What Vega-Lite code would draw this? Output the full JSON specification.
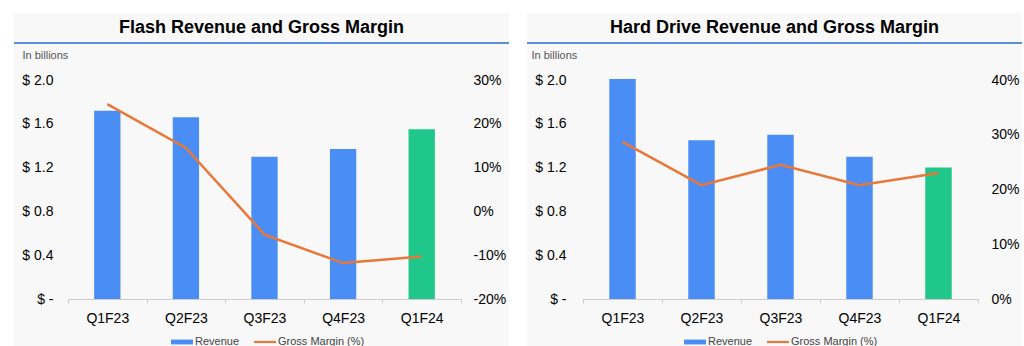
{
  "$schema": "https://vega.github.io/schema/vega-lite/v6.json",
  "background": "#ffffff",
  "padding": {"left": 13, "top": 13, "right": 0, "bottom": 0},
  "autosize": {"type": "pad"},
  "config": {
    "font": "Liberation Sans",
    "concat": {"spacing": 16},
    "view": {"fill": "#f8f8f8", "stroke": null},
    "title": {"font": "Liberation Sans", "fontSize": 18, "fontWeight": "bold", "color": "#000000", "anchor": "middle", "frame": "group", "baseline": "alphabetic", "offset": -24},
    "axis": {"labelFont": "Liberation Sans", "labelFontSize": 14, "labelColor": "#111111", "grid": false}
  },
  "datasets": {
    "fin": [
      {"segment": "Flash", "quarter": "Q1F23", "revenue": 1.72, "gm": 24.5, "group": "Revenue"},
      {"segment": "Flash", "quarter": "Q2F23", "revenue": 1.66, "gm": 14.5, "group": "Revenue"},
      {"segment": "Flash", "quarter": "Q3F23", "revenue": 1.30, "gm": -5.3, "group": "Revenue"},
      {"segment": "Flash", "quarter": "Q4F23", "revenue": 1.37, "gm": -11.8, "group": "Revenue"},
      {"segment": "Flash", "quarter": "Q1F24", "revenue": 1.55, "gm": -10.3, "group": "Latest"},
      {"segment": "HDD", "quarter": "Q1F23", "revenue": 2.01, "gm": 28.7, "group": "Revenue"},
      {"segment": "HDD", "quarter": "Q2F23", "revenue": 1.45, "gm": 20.8, "group": "Revenue"},
      {"segment": "HDD", "quarter": "Q3F23", "revenue": 1.50, "gm": 24.5, "group": "Revenue"},
      {"segment": "HDD", "quarter": "Q4F23", "revenue": 1.30, "gm": 20.8, "group": "Revenue"},
      {"segment": "HDD", "quarter": "Q1F24", "revenue": 1.20, "gm": 23.0, "group": "Latest"}
    ]
  },
  "hconcat": [
    {
      "width": 495,
      "height": 333,
      "title": "Flash Revenue and Gross Margin",
      "data": {"name": "fin"},
      "transform": [{"filter": "datum.segment === 'Flash'"}],
      "layer": [
        {
          "layer": [
            {
              "mark": {"type": "bar", "width": {"band": 0.335}},
              "encoding": {
                "x": {
                  "field": "quarter", "type": "nominal", "sort": null,
                  "scale": {"range": [54, 447], "paddingInner": 0, "paddingOuter": 0},
                  "axis": {"title": null, "labelAngle": 0, "offset": -47, "domainColor": "#cccccc", "tickColor": "#cccccc", "tickSize": 4, "tickBand": "extent", "labelPadding": 8, "labelColor": "#000000"}
                },
                "y": {
                  "field": "revenue", "type": "quantitative",
                  "scale": {"domain": [0, 2], "range": [286, 67], "nice": false, "zero": true},
                  "axis": {"orient": "left", "values": [0, 0.4, 0.8, 1.2, 1.6, 2.0], "labelExpr": "datum.value == 0 ? '$ -' : '$ ' + format(datum.value, '.1f')", "domain": false, "ticks": false, "offset": -39, "labelPadding": 0, "labelColor": "#000000",
                    "title": "In billions", "titleAngle": 0, "titleAlign": "left", "titleBaseline": "alphabetic", "titleX": -31, "titleY": 45, "titleFont": "Liberation Sans", "titleFontSize": 11, "titleFontWeight": "normal", "titleColor": "#555555"}
                },
                "color": {
                  "field": "group", "type": "nominal",
                  "scale": {"domain": ["Revenue", "Gross Margin (%)", "Latest"], "range": ["#4a8ef5", "#e8773a", "#1fc78b"]},
                  "legend": {
                    "title": null, "orient": "none", "direction": "horizontal", "legendX": 157, "legendY": 318,
                    "values": ["Revenue", "Gross Margin (%)"],
                    "labelFont": "Liberation Sans", "labelFontSize": 11, "labelColor": "#444444", "labelOffset": 2, "columnPadding": 14,
                    "symbolSize": 484, "symbolStrokeWidth": 0,
                    "encode": {"symbols": {"update": {"shape": {"signal": "datum.value === 'Revenue' ? 'M-1,-0.22H1V0.22H-1Z' : 'M-1,-0.1H1V0.1H-1Z'"}}}}
                  }
                }
              }
            },
            {
              "mark": {"type": "rule", "color": "#5b8fdc", "strokeWidth": 1.5},
              "encoding": {"y": {"datum": 2.338, "type": "quantitative", "scale": {"domain": [0, 2], "range": [286, 67], "nice": false, "zero": true}}}
            }
          ]
        },
        {
          "mark": {"type": "line", "color": "#e8773a", "strokeWidth": 2.5},
          "encoding": {
            "x": {"field": "quarter", "type": "nominal", "sort": null},
            "y": {
              "field": "gm", "type": "quantitative",
              "scale": {"domain": [-20, 30], "range": [286, 67], "nice": false, "zero": false},
              "axis": {"orient": "right", "values": [-20, -10, 0, 10, 20, 30], "labelExpr": "datum.value + '%'", "domain": false, "ticks": false, "offset": -36, "labelPadding": 0, "labelColor": "#000000", "title": null}
            }
          }
        }
      ],
      "resolve": {"scale": {"y": "independent"}, "axis": {"y": "independent"}}
    },
    {
      "width": 495,
      "height": 333,
      "title": "Hard Drive Revenue and Gross Margin",
      "data": {"name": "fin"},
      "transform": [{"filter": "datum.segment === 'HDD'"}],
      "layer": [
        {
          "layer": [
            {
              "mark": {"type": "bar", "width": {"band": 0.335}},
              "encoding": {
                "x": {
                  "field": "quarter", "type": "nominal", "sort": null,
                  "scale": {"range": [56, 451], "paddingInner": 0, "paddingOuter": 0},
                  "axis": {"title": null, "labelAngle": 0, "offset": -47, "domainColor": "#cccccc", "tickColor": "#cccccc", "tickSize": 4, "tickBand": "extent", "labelPadding": 8, "labelColor": "#000000"}
                },
                "y": {
                  "field": "revenue", "type": "quantitative",
                  "scale": {"domain": [0, 2], "range": [286, 67], "nice": false, "zero": true},
                  "axis": {"orient": "left", "values": [0, 0.4, 0.8, 1.2, 1.6, 2.0], "labelExpr": "datum.value == 0 ? '$ -' : '$ ' + format(datum.value, '.1f')", "domain": false, "ticks": false, "offset": -39, "labelPadding": 0, "labelColor": "#000000",
                    "title": "In billions", "titleAngle": 0, "titleAlign": "left", "titleBaseline": "alphabetic", "titleX": -35, "titleY": 45, "titleFont": "Liberation Sans", "titleFontSize": 11, "titleFontWeight": "normal", "titleColor": "#555555"}
                },
                "color": {
                  "field": "group", "type": "nominal",
                  "scale": {"domain": ["Revenue", "Gross Margin (%)", "Latest"], "range": ["#4a8ef5", "#e8773a", "#1fc78b"]},
                  "legend": {
                    "title": null, "orient": "none", "direction": "horizontal", "legendX": 157, "legendY": 318,
                    "values": ["Revenue", "Gross Margin (%)"],
                    "labelFont": "Liberation Sans", "labelFontSize": 11, "labelColor": "#444444", "labelOffset": 2, "columnPadding": 14,
                    "symbolSize": 484, "symbolStrokeWidth": 0,
                    "encode": {"symbols": {"update": {"shape": {"signal": "datum.value === 'Revenue' ? 'M-1,-0.22H1V0.22H-1Z' : 'M-1,-0.1H1V0.1H-1Z'"}}}}
                  }
                }
              }
            },
            {
              "mark": {"type": "rule", "color": "#5b8fdc", "strokeWidth": 1.5},
              "encoding": {"y": {"datum": 2.338, "type": "quantitative", "scale": {"domain": [0, 2], "range": [286, 67], "nice": false, "zero": true}}}
            }
          ]
        },
        {
          "mark": {"type": "line", "color": "#e8773a", "strokeWidth": 2.5},
          "encoding": {
            "x": {"field": "quarter", "type": "nominal", "sort": null},
            "y": {
              "field": "gm", "type": "quantitative",
              "scale": {"domain": [0, 40], "range": [286, 67], "nice": false, "zero": false},
              "axis": {"orient": "right", "values": [0, 10, 20, 30, 40], "labelExpr": "datum.value + '%'", "domain": false, "ticks": false, "offset": -31, "labelPadding": 0, "labelColor": "#000000", "title": null}
            }
          }
        }
      ],
      "resolve": {"scale": {"y": "independent"}, "axis": {"y": "independent"}}
    }
  ],
  "resolve": {"scale": {"color": "independent"}, "legend": {"color": "independent"}}
}
